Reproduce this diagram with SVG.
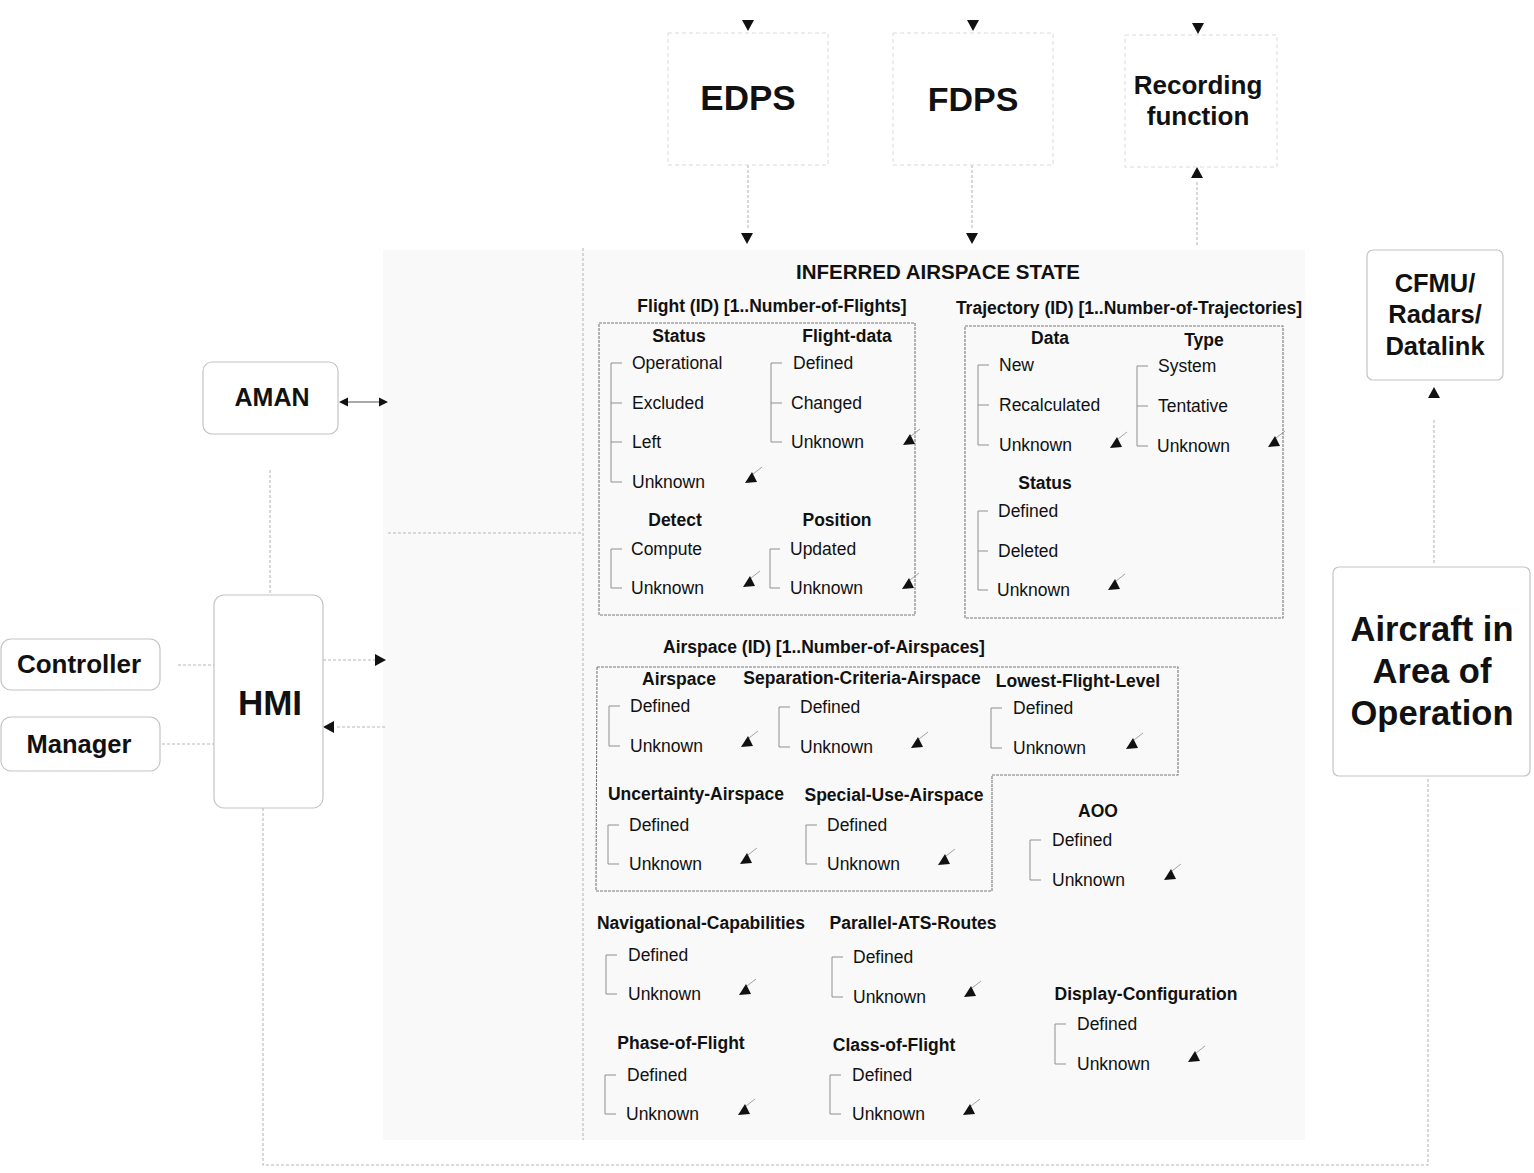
<svg xmlns="http://www.w3.org/2000/svg" xmlns:xlink="http://www.w3.org/1999/xlink" width="1534" height="1173" viewBox="0 0 1534 1173">
<style>
.bg{fill:#f9f9f9}
.box{fill:#fff;stroke:#c4c4c4;stroke-width:1.2}
.fbox{fill:none;stroke:#dadada;stroke-width:1;stroke-dasharray:4 3}
.frame{fill:none;stroke:#7a7a7a;stroke-width:1.1;stroke-dasharray:3 1}
.conn{fill:none;stroke:#b8b8b8;stroke-width:1.1;stroke-dasharray:3 2}
.connd{fill:none;stroke:#555;stroke-width:1}
.br{fill:none;stroke:#8f8f8f;stroke-width:1}
.it{font-family:"Liberation Sans",Arial,sans-serif;font-size:17.5px;fill:#111}
.hd{font-family:"Liberation Sans",Arial,sans-serif;font-size:17.5px;font-weight:bold;fill:#111;text-anchor:middle}
.ttl{font-family:"Liberation Sans",Arial,sans-serif;font-weight:bold;fill:#111;text-anchor:middle}
.big{font-family:"Liberation Sans",Arial,sans-serif;font-weight:bold;fill:#111;text-anchor:middle}
</style>
<defs>
<path id="ad" d="M-6,-11 L6,-11 L0,0 Z" fill="#111"/>
<path id="au" d="M-6,11 L6,11 L0,0 Z" fill="#111"/>
<path id="ar" d="M-11,-6 L-11,6 L0,0 Z" fill="#111"/>
<path id="al" d="M11,-6 L11,6 L0,0 Z" fill="#111"/>
<path id="arS" d="M-9,-4.5 L-9,4.5 L0,0 Z" fill="#111"/>
<path id="alS" d="M9,-4.5 L9,4.5 L0,0 Z" fill="#111"/>
<g id="sa">
<line x1="2" y1="-4" x2="11" y2="-11" stroke="#999" stroke-width="0.9"/>
<path d="M-6,5 L6,4 L1,-6 Z" fill="#111"/>
</g>
</defs>

<rect class="bg" x="383" y="250" width="922" height="890"/>

<g id="connectors">
<use href="#ad" x="748" y="31"/>
<use href="#ad" x="973" y="31"/>
<use href="#ad" x="1198" y="34"/>
<path class="conn" d="M748,165 V230"/>
<use href="#ad" x="747" y="244"/>
<path class="conn" d="M972,165 V230"/>
<use href="#ad" x="972" y="244"/>
<path class="conn" d="M1197,245 V181"/>
<use href="#au" x="1197" y="167"/>
<path class="connd" d="M345,402 H382"/>
<use href="#alS" x="339" y="402"/>
<use href="#arS" x="388" y="402"/>
<path class="conn" d="M270,470 V595"/>
<path class="conn" d="M388,533 H583"/>
<path class="conn" d="M583,248 V1140"/>
<path class="conn" d="M178,665 H214"/>
<path class="conn" d="M162,744 H214"/>
<path class="conn" d="M323,660 H375"/>
<use href="#ar" x="386" y="660"/>
<path class="conn" d="M385,727 H335"/>
<use href="#al" x="323" y="727"/>
<path class="conn" d="M263,808 V1165 H1428 V778"/>
<use href="#au" x="1434" y="387"/>
<path class="conn" d="M1434,420 V565"/>
</g>

<g id="edps"><rect class="fbox" x="668" y="33" width="160" height="132"/><text class="big" x="748" y="110" font-size="35">EDPS</text></g>
<g id="fdps"><rect class="fbox" x="893" y="33" width="160" height="132"/><text class="big" x="973" y="111" font-size="34">FDPS</text></g>
<g id="recording"><rect class="fbox" x="1125" y="35" width="152" height="132"/><text class="big" x="1198" y="94" font-size="26">Recording</text><text class="big" x="1198" y="125" font-size="26">function</text></g>

<g id="aman"><rect class="box" x="203" y="362" width="135" height="72" rx="9"/><text class="big" x="272" y="406" font-size="25">AMAN</text></g>
<g id="hmi"><rect class="box" x="214" y="595" width="109" height="213" rx="10"/><text class="big" x="270" y="715" font-size="35">HMI</text></g>
<g id="controller"><rect class="box" x="1" y="639" width="159" height="51" rx="10"/><text class="big" x="79" y="673" font-size="26">Controller</text></g>
<g id="manager"><rect class="box" x="1" y="717" width="159" height="54" rx="10"/><text class="big" x="79" y="753" font-size="25.5">Manager</text></g>
<g id="cfmu"><rect class="box" x="1367" y="250" width="136" height="130" rx="6"/><text class="big" x="1435" y="292" font-size="25.5">CFMU/</text><text class="big" x="1435" y="323" font-size="25.5">Radars/</text><text class="big" x="1435" y="355" font-size="25.5">Datalink</text></g>
<g id="aircraft"><rect class="box" x="1333" y="567" width="197" height="209" rx="6"/><text class="big" x="1432" y="641" font-size="34.5">Aircraft in</text><text class="big" x="1432" y="683" font-size="34.5">Area of</text><text class="big" x="1432" y="725" font-size="34.5">Operation</text></g>

<g id="inferred-state">
<text class="ttl" x="938" y="279" font-size="20.5">INFERRED AIRSPACE STATE</text>
</g>

<g id="flight">
<text class="hd" x="772" y="312">Flight (ID) [1..Number-of-Flights]</text>
<rect class="frame" x="599" y="323" width="316" height="292"/>
<text class="hd" x="679" y="342">Status</text>
<path class="br" d="M622,363 H611 V482 H622 M611,403 H622 M611,442 H622"/>
<text class="it" x="632" y="369">Operational</text>
<text class="it" x="632" y="409">Excluded</text>
<text class="it" x="632" y="448">Left</text>
<text class="it" x="632" y="488">Unknown</text>
<use href="#sa" x="751" y="478"/>
<text class="hd" x="847" y="342">Flight-data</text>
<path class="br" d="M782,363 H771 V442 H782 M771,403 H782"/>
<text class="it" x="793" y="369">Defined</text>
<text class="it" x="791" y="409">Changed</text>
<text class="it" x="791" y="448">Unknown</text>
<use href="#sa" x="909" y="440"/>
<text class="hd" x="675" y="526">Detect</text>
<path class="br" d="M622,549 H611 V588 H622"/>
<text class="it" x="631" y="555">Compute</text>
<text class="it" x="631" y="594">Unknown</text>
<use href="#sa" x="749" y="582"/>
<text class="hd" x="837" y="526">Position</text>
<path class="br" d="M780,549 H770 V588 H780"/>
<text class="it" x="790" y="555">Updated</text>
<text class="it" x="790" y="594">Unknown</text>
<use href="#sa" x="908" y="584"/>
</g>

<g id="trajectory">
<text class="hd" x="1129" y="314">Trajectory (ID) [1..Number-of-Trajectories]</text>
<rect class="frame" x="965" y="326" width="318" height="292"/>
<text class="hd" x="1050" y="344">Data</text>
<path class="br" d="M989,365 H978 V445 H989 M978,405 H989"/>
<text class="it" x="999" y="371">New</text>
<text class="it" x="999" y="411">Recalculated</text>
<text class="it" x="999" y="451">Unknown</text>
<use href="#sa" x="1116" y="443"/>
<text class="hd" x="1204" y="346">Type</text>
<path class="br" d="M1148,366 H1137 V446 H1148 M1137,406 H1148"/>
<text class="it" x="1158" y="372">System</text>
<text class="it" x="1158" y="412">Tentative</text>
<text class="it" x="1157" y="452">Unknown</text>
<use href="#sa" x="1274" y="442"/>
<text class="hd" x="1045" y="489">Status</text>
<path class="br" d="M988,511 H978 V590 H988 M978,551 H988"/>
<text class="it" x="998" y="517">Defined</text>
<text class="it" x="998" y="557">Deleted</text>
<text class="it" x="997" y="596">Unknown</text>
<use href="#sa" x="1114" y="585"/>
</g>

<g id="airspace">
<text class="hd" x="824" y="653">Airspace (ID) [1..Number-of-Airspaces]</text>
<path class="frame" d="M597,667 H1178 V775 H992 V891 H596 Z"/>
<text class="hd" x="679" y="685">Airspace</text>
<path class="br" d="M620,706 H609 V746 H620"/>
<text class="it" x="630" y="712">Defined</text>
<text class="it" x="630" y="752">Unknown</text>
<use href="#sa" x="747" y="742"/>
<text class="hd" x="862" y="684">Separation-Criteria-Airspace</text>
<path class="br" d="M790,707 H779 V747 H790"/>
<text class="it" x="800" y="713">Defined</text>
<text class="it" x="800" y="753">Unknown</text>
<use href="#sa" x="917" y="743"/>
<text class="hd" x="1078" y="687">Lowest-Flight-Level</text>
<path class="br" d="M1002,708 H991 V748 H1002"/>
<text class="it" x="1013" y="714">Defined</text>
<text class="it" x="1013" y="754">Unknown</text>
<use href="#sa" x="1132" y="744"/>
<text class="hd" x="696" y="800">Uncertainty-Airspace</text>
<path class="br" d="M619,825 H608 V864 H619"/>
<text class="it" x="629" y="831">Defined</text>
<text class="it" x="629" y="870">Unknown</text>
<use href="#sa" x="746" y="859"/>
<text class="hd" x="894" y="801">Special-Use-Airspace</text>
<path class="br" d="M817,825 H806 V864 H817"/>
<text class="it" x="827" y="831">Defined</text>
<text class="it" x="827" y="870">Unknown</text>
<use href="#sa" x="944" y="860"/>
</g>

<g id="aoo">
<text class="hd" x="1098" y="817">AOO</text>
<path class="br" d="M1041,840 H1030 V880 H1041"/>
<text class="it" x="1052" y="846">Defined</text>
<text class="it" x="1052" y="886">Unknown</text>
<use href="#sa" x="1170" y="875"/>
</g>

<g id="navigational-capabilities">
<text class="hd" x="701" y="929">Navigational-Capabilities</text>
<path class="br" d="M617,955 H606 V994 H617"/>
<text class="it" x="628" y="961">Defined</text>
<text class="it" x="628" y="1000">Unknown</text>
<use href="#sa" x="745" y="990"/>
</g>

<g id="parallel-ats-routes">
<text class="hd" x="913" y="929">Parallel-ATS-Routes</text>
<path class="br" d="M843,957 H832 V997 H843"/>
<text class="it" x="853" y="963">Defined</text>
<text class="it" x="853" y="1003">Unknown</text>
<use href="#sa" x="970" y="992"/>
</g>

<g id="display-configuration">
<text class="hd" x="1146" y="1000">Display-Configuration</text>
<path class="br" d="M1066,1024 H1055 V1064 H1066"/>
<text class="it" x="1077" y="1030">Defined</text>
<text class="it" x="1077" y="1070">Unknown</text>
<use href="#sa" x="1194" y="1057"/>
</g>

<g id="phase-of-flight">
<text class="hd" x="681" y="1049">Phase-of-Flight</text>
<path class="br" d="M616,1075 H605 V1114 H616"/>
<text class="it" x="627" y="1081">Defined</text>
<text class="it" x="626" y="1120">Unknown</text>
<use href="#sa" x="744" y="1110"/>
</g>

<g id="class-of-flight">
<text class="hd" x="894" y="1051">Class-of-Flight</text>
<path class="br" d="M841,1075 H830 V1114 H841"/>
<text class="it" x="852" y="1081">Defined</text>
<text class="it" x="852" y="1120">Unknown</text>
<use href="#sa" x="969" y="1110"/>
</g>
</svg>
